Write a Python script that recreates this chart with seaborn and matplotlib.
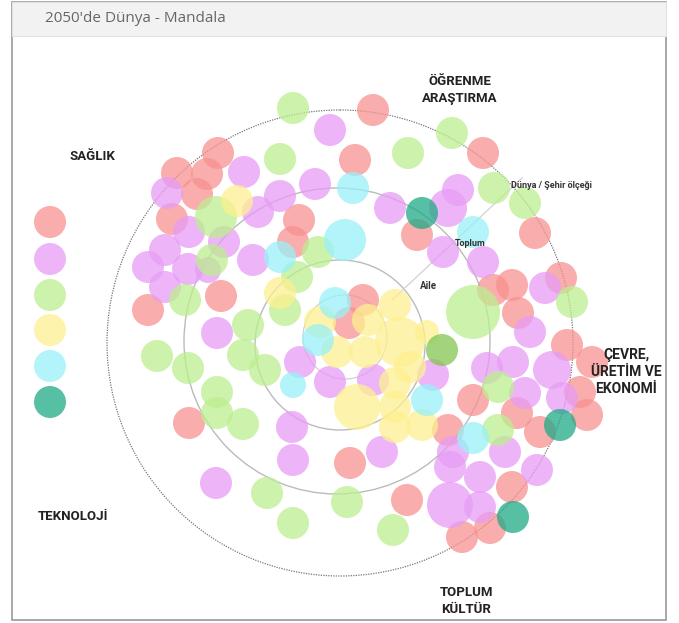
import matplotlib
matplotlib.use("Agg")
import matplotlib.pyplot as plt
import seaborn as sns
import pandas as pd
from matplotlib.patches import Circle, Rectangle

# --- veriler: baloncuk merkezleri (x, y), yaricap ve kategori ---
kirmizi = [(218, 153), (177, 173), (207, 174), (197, 194), (172, 219), (299, 220), (293, 242),
           (221, 296), (148, 310), (373, 110), (355, 160), (483, 153), (417, 235), (535, 233),
           (561, 278), (493, 290), (512, 285), (518, 313), (363, 300), (349, 323), (567, 345),
           (473, 400), (517, 413), (540, 432), (448, 430), (512, 487), (407, 500), (490, 528),
           (462, 537), (350, 463), (189, 423), (592, 362), (580, 392), (587, 415)]
mor = [(330, 130), (244, 172), (167, 193), (280, 196), (315, 184), (258, 212), (189, 232),
       (224, 242), (165, 250), (253, 260), (148, 267), (188, 269), (208, 270), (165, 287),
       (458, 190), (390, 208), (448, 208), (443, 252), (483, 262), (545, 288), (530, 332),
       (552, 370), (513, 362), (487, 368), (433, 375), (373, 380), (525, 393), (562, 398),
       (453, 452), (450, 467), (505, 452), (537, 470), (382, 452), (480, 477), (450, 505),
       (480, 507), (217, 333), (300, 362), (330, 382), (292, 427), (293, 460), (216, 483)]
yesil = [(293, 108), (280, 159), (216, 217), (212, 260), (318, 252), (185, 300), (297, 277),
         (285, 310), (452, 133), (408, 153), (494, 188), (525, 203), (572, 302), (473, 312),
         (498, 387), (498, 430), (393, 530), (347, 502), (248, 325), (157, 356), (188, 368),
         (243, 355), (265, 370), (217, 392), (217, 413), (243, 424), (267, 493), (293, 523)]
sari = [(237, 201), (280, 293), (395, 305), (320, 322), (368, 320), (400, 342), (427, 332),
        (365, 352), (337, 352), (410, 367), (395, 383), (357, 407), (395, 407), (395, 427),
        (422, 425)]
mavi = [(280, 257), (345, 240), (353, 188), (473, 232), (335, 303), (318, 340), (293, 385),
        (427, 400), (473, 438)]
turkuaz = [(422, 213), (560, 425), (513, 517)]
koyu_yesil = [(442, 350)]

# buyuk / kucuk baloncuklar (digerleri 16)
ozel_yaricap = {(216, 217): 21, (345, 240): 21, (448, 208): 19, (552, 370): 19,
                (473, 312): 27, (400, 342): 25, (357, 407): 23, (450, 505): 23,
                (427, 332): 12, (293, 385): 13, (208, 270): 13}

lejant_y = [222, 259, 295, 330, 366, 402]
lejant_kat = ["kirmizi", "mor", "yesil", "sari", "mavi", "turkuaz"]

renkler = {"kirmizi": "#f79290", "mor": "#e79cf6", "yesil": "#bdee90", "sari": "#fdf090",
           "mavi": "#98f1f7", "turkuaz": "#1faa86", "koyu_yesil": "#84c552"}

satirlar = []
for kat, liste in [("kirmizi", kirmizi), ("mor", mor), ("yesil", yesil), ("sari", sari),
                   ("mavi", mavi), ("turkuaz", turkuaz), ("koyu_yesil", koyu_yesil)]:
    for p in liste:
        satirlar.append({"x": p[0], "y": p[1], "r": ozel_yaricap.get(p, 16), "kat": kat})
df = pd.DataFrame(satirlar)
df["s"] = (1.44 * df["r"]) ** 2

leg = pd.DataFrame({"x": [50] * 6, "y": lejant_y, "kat": lejant_kat})

fig = plt.figure(figsize=(6.79, 6.23), dpi=100)
ax = fig.add_axes([0, 0, 1, 1])
ax.set_xlim(0, 679)
ax.set_ylim(623, 0)
ax.axis("off")

# cerceve ve baslik cubugu
ax.add_patch(Rectangle((12, 2), 654, 618, fill=False, ec="#9a9a9a", lw=1.2))
ax.add_patch(Rectangle((12, 2), 654, 34, fc="#f2f2f2", ec="#e2e2e2", lw=0.8))
ax.text(45, 19, "2050'de Dünya - Mandala", fontsize=11, color="#666666",
        family="Open Sans", va="center", ha="left")

# halkalar
ax.add_patch(Circle((340, 343), 233, fill=False, ec="#777777", lw=0.9, ls=(0, (1, 1))))
ax.add_patch(Circle((337, 341), 153, fill=False, ec="#bbbbbb", lw=1.0))
ax.add_patch(Circle((340, 345), 85, fill=False, ec="#bbbbbb", lw=1.0))
ax.add_patch(Circle((345, 337), 42, fill=False, ec="#cccccc", lw=0.8))
ax.plot([392, 522], [300, 178], color="#d5d5d5", lw=1.0)

sns.scatterplot(data=df, x="x", y="y", hue="kat", palette=renkler, s=df["s"].values,
                alpha=0.75, linewidth=0, legend=False, ax=ax, zorder=3)
sns.scatterplot(data=leg, x="x", y="y", hue="kat", palette=renkler, s=(1.44 * 16) ** 2,
                alpha=0.75, linewidth=0, legend=False, ax=ax, zorder=3)

bas = dict(family="Roboto", fontweight="bold", color="#222222", ha="center", va="center",
           zorder=5)
ax.text(92, 157, "SAĞLIK", fontsize=9.5, **bas)
ax.text(460, 90, "ÖĞRENME\nARAŞTIRMA", fontsize=9.5, linespacing=1.35, **bas)
ax.text(626, 372, "ÇEVRE,\nÜRETİM VE\nEKONOMİ", fontsize=10, linespacing=1.3, **bas)
ax.text(73, 517, "TEKNOLOJİ", fontsize=9.5, **bas)
ax.text(466, 601, "TOPLUM\nKÜLTÜR", fontsize=9.5, linespacing=1.35, **bas)

ara = dict(family="Roboto", fontweight="bold", color="#333333", ha="left", va="center",
           zorder=5)
ax.text(511, 186, "Dünya / Şehir ölçeği", fontsize=6.5, **ara)
ax.text(455, 243, "Toplum", fontsize=6.5, **ara)
ax.text(420, 286, "Aile", fontsize=7, **ara)

fig.savefig("out.png", dpi=100)
